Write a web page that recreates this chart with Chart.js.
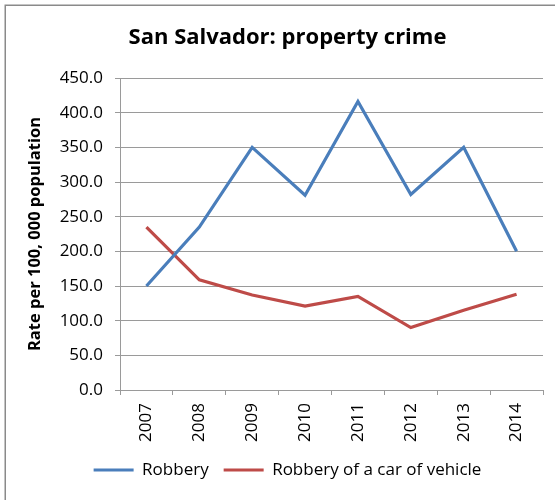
<!DOCTYPE html>
<html>
<head>
<meta charset="utf-8">
<script src="https://cdn.jsdelivr.net/npm/chart.js@4"></script>
<style>
  html, body { margin: 0; padding: 0; background: #fff; }
  #wrap { width: 555px; height: 500px; position: relative; }
</style>
</head>
<body>
<div id="wrap"><canvas id="c" width="555" height="500"></canvas></div>
<script>
const years = ['2007', '2008', '2009', '2010', '2011', '2012', '2013', '2014'];
const robbery = [150, 235, 350, 281, 416, 282, 350, 200];
const carRobbery = [235, 159, 137, 121, 135, 90, 115, 138];
const seriesNames = ['Robbery', 'Robbery of a car of vehicle'];
const chartTitle = 'San Salvador: property crime';
const yAxisTitle = 'Rate per 100, 000 population';

const FONT = "'Open Sans', 'DejaVu Sans', sans-serif";
const GRID = '#9a9a9a';

const outerBorder = {
  id: 'outerBorder',
  beforeDraw(chart) {
    const ctx = chart.ctx;
    ctx.save();
    ctx.strokeStyle = '#8a8a8a';
    ctx.lineWidth = 1.5;
    ctx.strokeRect(5.25, 5.25, 700, 700);
    ctx.restore();
  }
};

new Chart(document.getElementById('c'), {
  type: 'line',
  data: {
    labels: years,
    datasets: [
      { label: seriesNames[0], data: robbery, borderColor: '#4A7EBB', backgroundColor: '#4A7EBB',
        borderWidth: 3.2, pointRadius: 0, pointHoverRadius: 0, tension: 0, fill: false, pointStyle: 'line' },
      { label: seriesNames[1], data: carRobbery, borderColor: '#BE4B48', backgroundColor: '#BE4B48',
        borderWidth: 3.2, pointRadius: 0, pointHoverRadius: 0, tension: 0, fill: false, pointStyle: 'line' }
    ]
  },
  options: {
    responsive: false,
    animation: false,
    devicePixelRatio: 1,
    layout: { padding: { left: 32, right: 12, top: 0, bottom: 11.5 } },
    plugins: {
      title: {
        display: true, text: chartTitle, color: '#000',
        font: { family: FONT, size: 22, weight: 'bold', lineHeight: 1.2 },
        padding: { top: 24.8, bottom: 26.8 }
      },
      legend: {
        position: 'bottom',
        labels: {
          usePointStyle: true, pointStyle: 'line', pointStyleWidth: 40,
          color: '#000', padding: 15,
          font: { family: FONT, size: 17 }
        }
      },
      tooltip: { enabled: false }
    },
    scales: {
      x: {
        offset: true,
        grid: { offset: true, drawOnChartArea: false, color: GRID, tickLength: 5, tickColor: GRID },
        border: { color: GRID, width: 1 },
        ticks: { color: '#000', minRotation: 90, maxRotation: 90, padding: 8, autoSkip: false,
                 font: { family: FONT, size: 17 } },
        afterFit(scale) { scale.height = 56.5; }
      },
      y: {
        min: 0, max: 450,
        grid: { color: GRID, tickLength: 5, tickColor: GRID },
        border: { color: GRID, width: 1 },
        ticks: { stepSize: 50, color: '#000', padding: 12,
                 font: { family: FONT, size: 17 },
                 callback: (v) => Number(v).toFixed(1) },
        title: { display: true, text: yAxisTitle, color: '#000',
                 font: { family: FONT, size: 16.5, weight: 'bold', lineHeight: 1.2 },
                 padding: { top: -6.9, bottom: 0 } },
        afterFit(scale) { scale.width = 88; }
      }
    }
  },
  plugins: [outerBorder]
});
</script>
</body>
</html>
